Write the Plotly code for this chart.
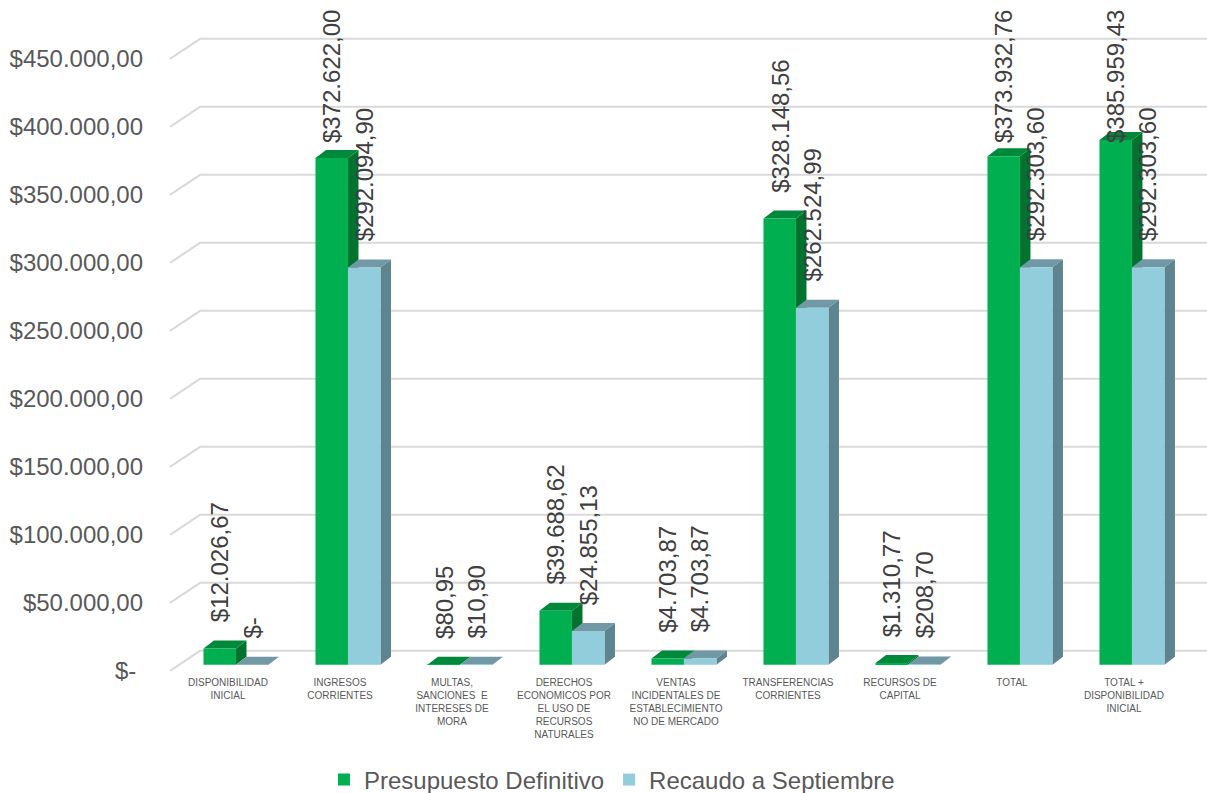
import plotly.graph_objects as go

# Datos (millones de pesos)
categorias = [
    "DISPONIBILIDAD<br>INICIAL",
    "INGRESOS<br>CORRIENTES",
    "MULTAS,<br>SANCIONES  E<br>INTERESES DE<br>MORA",
    "DERECHOS<br>ECONOMICOS POR<br>EL USO DE<br>RECURSOS<br>NATURALES",
    "VENTAS<br>INCIDENTALES DE<br>ESTABLECIMIENTO<br>NO DE MERCADO",
    "TRANSFERENCIAS<br>CORRIENTES",
    "RECURSOS DE<br>CAPITAL",
    "TOTAL",
    "TOTAL +<br>DISPONIBILIDAD<br>INICIAL",
]
presupuesto = [12026.67, 372622.00, 80.95, 39688.62, 4703.87,
               328148.56, 1310.77, 373932.76, 385959.43]
recaudo = [0.0, 292094.90, 10.90, 24855.13, 4703.87,
           262524.99, 208.70, 292303.60, 292303.60]
ticks_y = [0, 50000, 100000, 150000, 200000, 250000, 300000, 350000, 400000, 450000]

SERIES = [
    # nombre, valores, frente, lateral, tapa
    ("Presupuesto Definitivo", presupuesto, "#00B050", "#00742F", "#00893B"),
    ("Recaudo a Septiembre", recaudo, "#92CDDC", "#5E848E", "#7099A5"),
]

# Geometría de la figura (px) -> escalas de datos
W, H = 1207, 793
ML, MR, MT, MB = 168, 0, 12, 120
X0, X1 = -0.607, 8.67
Y0, Y1 = -6000, 480000
PX_X = (W - ML - MR) / (X1 - X0)
PX_Y = (H - MT - MB) / (Y1 - Y0)
BAR_W = 32.5 / PX_X          # ancho de cada barra
DX = 10.5 / PX_X             # profundidad 3D horizontal
DY = 8 / PX_Y                # profundidad 3D vertical
LABEL_CEIL = 364700          # Excel empuja las etiquetas altas hacia abajo
FONT = "Arial, Liberation Sans, sans-serif"


def pesos(v):
    if v == 0:
        return "$-"
    s = f"{v:,.2f}".replace(",", "X").replace(".", ",").replace("X", ".")
    return "$" + s


def px_x(px):
    return X0 + (px - ML) / PX_X


fig = go.Figure()
for k, (name, vals, front, _, _) in enumerate(SERIES):
    fig.add_trace(go.Bar(
        x=list(range(len(categorias))), y=vals, name=name,
        marker={"color": front, "line": {"width": 0}},
        hoverinfo="y+name"))

shapes = []
# paredes: líneas de cuadrícula con el quiebre en perspectiva
for v in ticks_y:
    shapes.append(dict(
        type="path", xref="x", yref="y", ysizemode="pixel", yanchor=v,
        path=f"M {px_x(170)},-6 L {px_x(200)},14 L {X1},14",
        line={"color": "#D9D9D9", "width": 2}, layer="below"))

# caras laterales y superiores de cada barra
for i in range(len(categorias)):
    for k, (name, vals, front, side, top) in enumerate(SERIES):
        v = vals[i]
        xl = i - BAR_W + k * BAR_W
        xr = xl + BAR_W
        shapes.append(dict(
            type="path", xref="x", yref="y", layer="below",
            path=(f"M {xr},0 L {xr},{v} L {xr + DX},{v + DY} "
                  f"L {xr + DX},{DY} Z"),
            fillcolor=side, line={"width": 0}))
        shapes.append(dict(
            type="path", xref="x", yref="y", layer="below",
            path=(f"M {xl},{v} L {xr},{v} L {xr + DX},{v + DY} "
                  f"L {xl + DX},{v + DY} Z"),
            fillcolor=top, line={"width": 0}))

annotations = []
for i in range(len(categorias)):
    for k, (name, vals, *_colors) in enumerate(SERIES):
        v = vals[i]
        annotations.append(dict(
            x=i - BAR_W / 2 + k * BAR_W, y=min(v, LABEL_CEIL),
            xref="x", yref="y", text=pesos(v), showarrow=False,
            textangle=-90, xanchor="center", yanchor="bottom", yshift=24,
            font={"family": FONT, "size": 24, "color": "#404040"}))

fig.update_layout(
    width=W, height=H,
    margin={"l": ML, "r": MR, "t": MT, "b": MB},
    paper_bgcolor="white", plot_bgcolor="white",
    barmode="group", bargap=1 - 2 * BAR_W, bargroupgap=0,
    shapes=shapes, annotations=annotations,
    font={"family": FONT, "color": "#595959"},
    legend={"orientation": "h", "xref": "container", "yref": "container",
            "x": 0.507, "xanchor": "center", "y": 0.0164, "yanchor": "middle",
            "font": {"size": 24, "color": "#595959"}},
    xaxis={"range": [X0, X1], "tickvals": list(range(len(categorias))),
           "ticktext": categorias, "tickangle": 0, "showgrid": False,
           "zeroline": False, "showline": False, "ticks": "",
           "tickfont": {"size": 10, "color": "#595959"},
           "ticklabelshift": -8, "ticklabelstandoff": 2},
    yaxis={"range": [Y0, Y1], "tickvals": ticks_y,
           "ticktext": [pesos(v) + ("\u00a0" if v == 0 else "") for v in ticks_y],
           "showgrid": False, "zeroline": False, "showline": False,
           "ticks": "", "tickfont": {"size": 24, "color": "#595959"},
           "ticklabelshift": 6, "ticklabelstandoff": 24},
)

# sin el margen por defecto del <body>, la figura ocupa toda la ventana
fig.write_html("out.html", config={"displayModeBar": False},
               post_script="document.body.style.margin='0';")
